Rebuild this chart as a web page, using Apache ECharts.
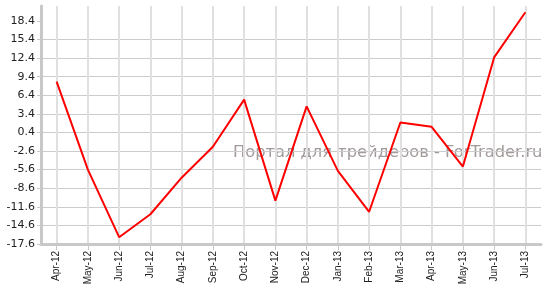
<!DOCTYPE html>
<html>
<head>
<meta charset="utf-8">
<script src="https://cdn.jsdelivr.net/npm/echarts@6/dist/echarts.min.js"></script>
<style>html,body{margin:0;padding:0;background:#fff;}#c{width:549px;height:291px;}</style>
</head>
<body>
<div id="c"></div>
<script>
const categories = ['Apr-12','May-12','Jun-12','Jul-12','Aug-12','Sep-12','Oct-12','Nov-12','Dec-12','Jan-13','Feb-13','Mar-13','Apr-13','May-13','Jun-13','Jul-13'];
const values = [8.6, -5.6, -16.5, -12.8, -6.9, -1.9, 5.7, -10.6, 4.6, -5.8, -12.4, 2.0, 1.3, -5.1, 12.5, 19.8];
const yTickLabels = ['-17.6','-14.6','-11.6','-8.6','-5.6','-2.6','0.4','3.4','6.4','9.4','12.4','15.4','18.4'];
const yTicks = yTickLabels.map(Number);
const watermark = 'Портал для трейдеров - ForTrader.ru';

const chart = echarts.init(document.getElementById('c'), null, {renderer: 'canvas'});
chart.setOption({
  animation: false,
  grid: {left: 41, right: 8, top: 6, bottom: 47, containLabel: false},
  xAxis: {
    type: 'category',
    data: categories,
    boundaryGap: true,
    axisLine: {show: true, onZero: false, lineStyle: {color: '#c8c8c8', width: 3}},
    axisTick: {show: true, alignWithLabel: true, length: 6, lineStyle: {color: '#c8c8c8', width: 1}},
    splitLine: {show: true, alignWithLabel: true, lineStyle: {color: '#e0e0e0', width: 2}},
    axisLabel: {rotate: 90, interval: 0, margin: 7, color: '#222', fontFamily: 'Liberation Sans', fontSize: 10}
  },
  yAxis: {
    type: 'value',
    min: -17.6,
    max: 20.8,
    axisLine: {show: true, onZero: false, lineStyle: {color: '#c8c8c8', width: 3}},
    axisTick: {show: true, length: 4, customValues: yTicks, lineStyle: {color: '#c8c8c8'}},
    axisLabel: {customValues: yTicks, margin: 6, color: '#222', fontFamily: 'DejaVu Sans', fontSize: 11,
      formatter: v => v.toFixed(1)},
    splitLine: {show: true, showMaxLine: false, lineStyle: {color: '#cccccc', width: 1}}
  },
  graphic: [{
    type: 'text', z: 0, left: 233, top: 145,
    style: {text: watermark, font: '16.3px "DejaVu Sans"', fill: '#a39a9a'}
  }],
  series: [{
    type: 'line',
    data: values,
    symbol: 'none',
    z: 5,
    lineStyle: {color: '#ff0000', width: 2},
    itemStyle: {color: '#ff0000'}
  }]
});
</script>
</body>
</html>
